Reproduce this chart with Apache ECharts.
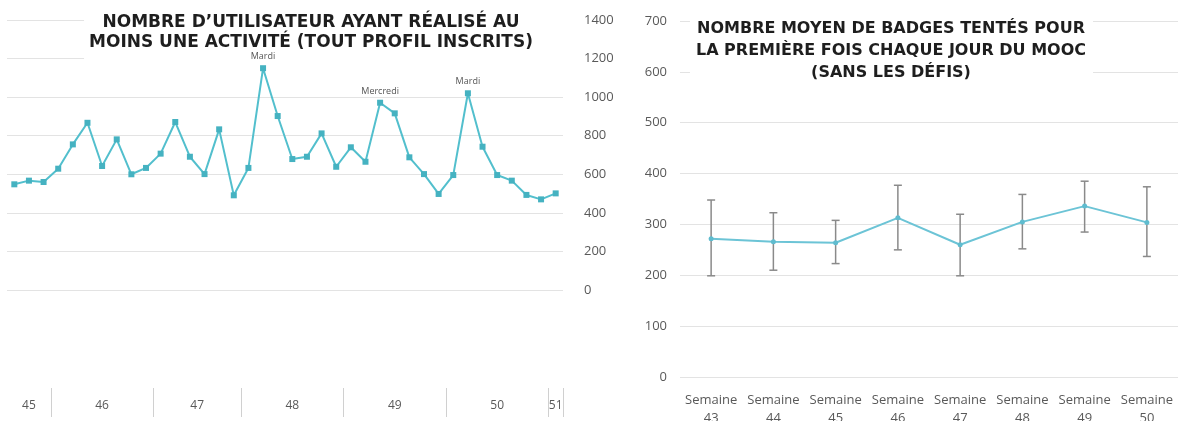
<!DOCTYPE html>
<html><head><meta charset="utf-8">
<script src="https://cdn.jsdelivr.net/npm/echarts@6/dist/echarts.min.js"></script>
<style>html,body{margin:0;padding:0;background:#fff}#c{width:1181px;height:421px}</style>
</head><body><div id="c"></div>
<script>
// ---- Left chart data: daily active users ----
const dayValues = [548,567,560,629,755,867,643,781,600,633,707,871,691,601,833,491,633,1150,902,679,691,812,639,740,665,971,916,688,601,498,596,1020,743,596,567,493,470,501];
const weekLabels = ['45','46','47','48','49','50','51'];
const daysPerWeek = [3,7,6,7,7,7,1];
const noteIndex = [17,25,31];
const noteText = ['Mardi','Mercredi','Mardi'];
const leftTitle = 'NOMBRE D\u2019UTILISATEUR AYANT RÉALISÉ AU\nMOINS UNE ACTIVITÉ (TOUT PROFIL INSCRITS)';

// ---- Right chart data: mean badges attempted ----
const semaines = ['Semaine\n43','Semaine\n44','Semaine\n45','Semaine\n46','Semaine\n47','Semaine\n48','Semaine\n49','Semaine\n50'];
const badgeMeans = [272,266,264,313,260,305,336,304];
const badgeLow = [199,210,223,250,199,252,285,237];
const badgeHigh = [348,323,308,377,320,359,385,374];
const rightTitle = 'NOMBRE MOYEN DE BADGES TENTÉS POUR\nLA PREMIÈRE FOIS CHAQUE JOUR DU MOOC\n(SANS LES DÉFIS)';

// derived helpers
const dayCats = [];
const weekCenters = [];
const weekBounds = [];
let s = 0;
weekLabels.forEach((w, k) => {
  for (let d = 0; d < daysPerWeek[k]; d++) dayCats.push('S' + w + '-J' + (d + 1));
  weekCenters.push(s + (daysPerWeek[k] - 1) / 2);
  s += daysPerWeek[k];
  weekBounds.push(s - 0.5);
});
const dayData = dayValues.map((v, i) => {
  const k = noteIndex.indexOf(i);
  return k >= 0 ? { value: v, label: { show: true, formatter: noteText[k] } } : v;
});

const axisFont = { color: '#595959', fontSize: 13, fontFamily: 'Open Sans' };
const titleFont = { color: '#1e1e1e', fontSize: 17, fontWeight: 'bold', fontFamily: 'DejaVu Sans', lineHeight: 20 };

const chart = echarts.init(document.getElementById('c'), null, { renderer: 'canvas' });
chart.setOption({
  animation: false,
  backgroundColor: '#fff',
  title: [
    { text: leftTitle, left: 306, top: 0, textAlign: 'center', padding: [13, 36, 7, 5],
      backgroundColor: '#fff', textStyle: titleFont, z: 10 },
    { text: rightTitle, left: 885, top: 0, textAlign: 'center', padding: [18, 7, 6, 6],
      backgroundColor: '#fff', textStyle: Object.assign({}, titleFont, { fontSize: 16, lineHeight: 22 }), z: 10 }
  ],
  grid: [
    { left: 7, top: 20, width: 556, height: 270, outerBoundsMode: 'none', containLabel: false },
    { left: 680, top: 21, width: 498, height: 356, outerBoundsMode: 'none', containLabel: false }
  ],
  xAxis: [
    { type: 'category', gridIndex: 0, data: dayCats, boundaryGap: true, show: false },
    { type: 'value', gridIndex: 0, min: -0.5, max: 37.5, position: 'bottom', offset: 98,
      axisLine: { show: false }, splitLine: { show: false },
      axisTick: { show: true, customValues: weekBounds, length: 29, lineStyle: { color: '#d0d0d0' } },
      axisLabel: { customValues: weekCenters, margin: 12, ...axisFont, fontSize: 12,
        formatter: v => { const k = weekCenters.indexOf(v); return k >= 0 ? weekLabels[k] : ''; } } },
    { type: 'category', gridIndex: 1, data: semaines, boundaryGap: true,
      axisLine: { show: false }, axisTick: { show: false },
      axisLabel: { interval: 0, margin: 14, lineHeight: 18, ...axisFont, fontSize: 13 } }
  ],
  yAxis: [
    { type: 'value', gridIndex: 0, position: 'right', min: 0, max: 1400, interval: 200,
      axisLine: { show: false }, axisTick: { show: false },
      axisLabel: { margin: 21, ...axisFont, formatter: v => String(v) },
      splitLine: { lineStyle: { color: '#e3e3e3', width: 1 } } },
    { type: 'value', gridIndex: 1, position: 'left', min: 0, max: 700, interval: 100,
      axisLine: { show: false }, axisTick: { show: false },
      axisLabel: { margin: 13, ...axisFont, formatter: v => String(v) },
      splitLine: { lineStyle: { color: '#e3e3e3', width: 1 } } }
  ],
  series: [
    { type: 'line', xAxisIndex: 0, yAxisIndex: 0, data: dayData,
      symbol: 'rect', symbolSize: 6,
      lineStyle: { color: '#52bfcd', width: 2 },
      itemStyle: { color: '#45b2c1' },
      label: { show: false, position: 'top', distance: 4, color: '#555', fontSize: 9, fontFamily: 'Open Sans' },
      z: 12 },
    { type: 'custom', xAxisIndex: 2, yAxisIndex: 1,
      data: semaines.map((c, i) => [i, badgeLow[i], badgeHigh[i]]),
      encode: { x: 0, y: [1, 2] },
      renderItem: (params, api) => {
        const lo = api.coord([api.value(0), api.value(1)]);
        const hi = api.coord([api.value(0), api.value(2)]);
        const hw = 4;
        const st = { stroke: '#8a8a8a', lineWidth: 1.5 };
        return { type: 'group', children: [
          { type: 'line', shape: { x1: hi[0], y1: hi[1], x2: lo[0], y2: lo[1] }, style: st },
          { type: 'line', shape: { x1: hi[0] - hw, y1: hi[1], x2: hi[0] + hw, y2: hi[1] }, style: st },
          { type: 'line', shape: { x1: lo[0] - hw, y1: lo[1], x2: lo[0] + hw, y2: lo[1] }, style: st }
        ] };
      },
      z: 2 },
    { type: 'line', xAxisIndex: 2, yAxisIndex: 1, data: badgeMeans,
      symbol: 'circle', symbolSize: 5,
      lineStyle: { color: '#6cc4d6', width: 2 },
      itemStyle: { color: '#5fbccf' },
      z: 3 }
  ]
});
</script>
</body></html>
